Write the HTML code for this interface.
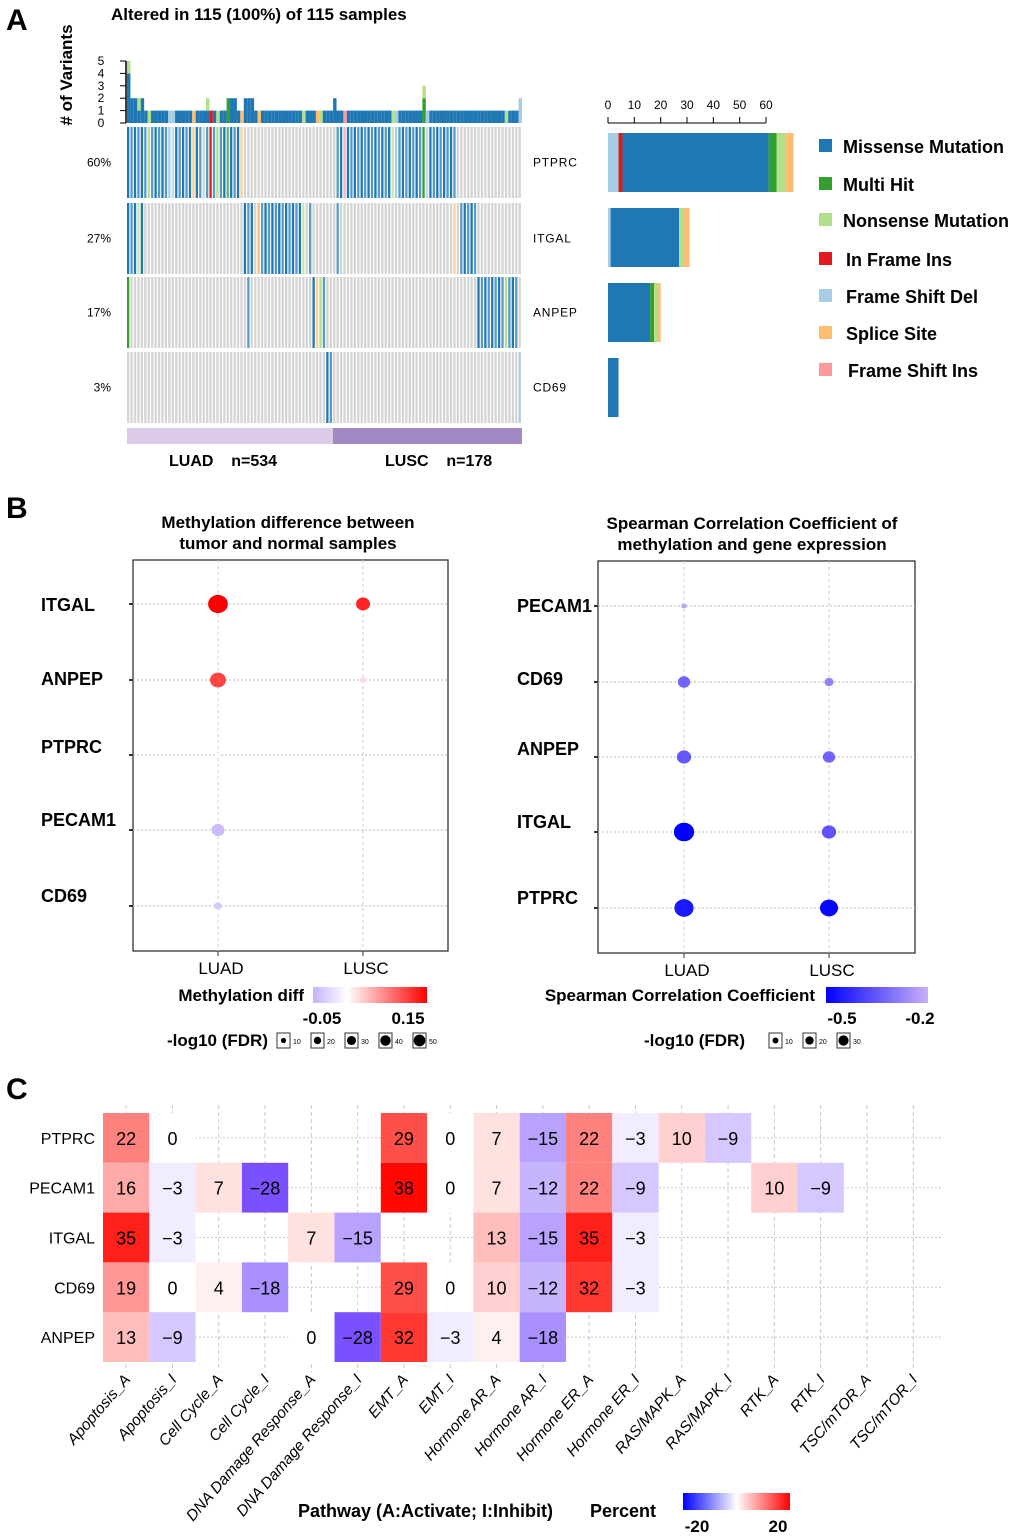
<!DOCTYPE html>
<html><head><meta charset="utf-8">
<style>
html,body{margin:0;padding:0;background:#fff;}
svg{display:block;font-family:"Liberation Sans",sans-serif;}
.n{font-family:"Liberation Sans Narrow","Liberation Sans",sans-serif;}
</style></head>
<body>
<svg id="fig" width="1020" height="1536" viewBox="0 0 1020 1536" xmlns="http://www.w3.org/2000/svg">
<defs>
<linearGradient id="gMeth" x1="0" x2="1" y1="0" y2="0"><stop offset="0" stop-color="#c6b2fb"/><stop offset="0.3" stop-color="#ffffff"/><stop offset="1" stop-color="#ff0000"/></linearGradient>
<linearGradient id="gSp" x1="0" x2="1" y1="0" y2="0"><stop offset="0" stop-color="#0000ff"/><stop offset="1" stop-color="#c8b0f8"/></linearGradient>
<linearGradient id="gPct" x1="0" x2="1" y1="0" y2="0"><stop offset="0" stop-color="#0000ff"/><stop offset="0.5" stop-color="#ffffff"/><stop offset="1" stop-color="#ff0000"/></linearGradient>
</defs>
<text x="6" y="30" font-size="30" font-weight="bold">A</text>
<text x="6" y="518" font-size="30" font-weight="bold">B</text>
<text x="6" y="1099" font-size="30" font-weight="bold">C</text>
<text x="111" y="20" font-size="17" font-weight="bold">Altered in 115 (100%) of 115 samples</text>
<text transform="translate(72,75) rotate(-90)" text-anchor="middle" font-size="17" font-weight="bold"># of Variants</text>
<g id="onco"></g>
<g id="dots"></g>
<g id="heat"></g>
</svg>
<script>
// ---------- Panel A data ----------
const genes = ["PTPRC","ITGAL","ANPEP","CD69"];
const genePct = ["60%","27%","17%","3%"];
const nSamples = 115;
const variantCounts = [5,2,2,2,2,1,1,1,1,1,1,1,1,1,1,1,1,1,1,1,1,1,1,2,1,1,1,1,1,2,2,2,1,1,2,2,2,
1,1,1,1,1,1,1,1,1,1,1,1,1,1,1,1,1,1,1,1,1,1,1,2,
1,1,1,1,1,1,1,1,1,1,1,1,1,1,1,1,1,1,1,1,1,1,1,1,1,3,
1,1,1,1,1,1,1,1,1,1,1,1,1,1,1,1,1,1,1,1,1,1,1,1,1,1,1,2];
const topExtraN = [0,3,23,86];
const ptprcIdx = [0,1,2,3,4,5,6,7,8,9,10,11,12,13,14,15,16,17,18,19,20,21,23,24,25,26,27,28,29,30,31,32,33,
61,62,63,64,65,66,67,68,69,70,71,72,73,74,75,76,77,78,79,80,81,82,83,84,85,86,87,88,89,90,91,92,93,94,95];
const ptprcType = {6:"N",12:"D",13:"D",19:"S",24:"I",26:"N",29:"H",33:"S",63:"F",77:"N",78:"D",86:"H",87:"D"};
const itgalIdx = [0,1,2,3,4,34,35,36,38,39,40,41,42,43,44,45,46,47,48,49,50,51,53,61,95,97,98,99,100,101];
const itgalType = {3:"N",38:"S",51:"N",95:"S"};
const anpepIdx = [0,35,54,55,56,57,102,103,104,105,106,107,108,109,110,111,112,113];
const anpepType = {0:"H",55:"S",56:"N",110:"N"};
const cd69Idx = [58,59,114];
const cd69Type = {114:"D"};
const barPTPRC = [["D",4],["I",1.5],["M",55.5],["H",3],["N",3.5],["S",3]];
const barITGAL = [["D",1],["M",26],["N",1.5],["S",2.5]];
const barANPEP = [["M",16],["H",1.5],["N",1.5],["S",1]];
const barCD69 = [["M",4]];
const axisTicks = [0,10,20,30,40,50,60];
const legendLabels = ["Missense Mutation","Multi Hit","Nonsense Mutation","In Frame Ins","Frame Shift Del","Splice Site","Frame Shift Ins"];
const legendTypes = ["M","H","N","I","D","S","F"];

const COL = {M:"#1f78b4",H:"#33a02c",N:"#b2df8a",I:"#e31a1c",D:"#a6cee3",S:"#fdbf6f",F:"#fb9a99"};
const NS="http://www.w3.org/2000/svg";
function mk(parent,tag,attrs,text){const e=document.createElementNS(NS,tag);for(const k in attrs)e.setAttribute(k,attrs[k]);if(text!==undefined)e.textContent=text;parent.appendChild(e);return e;}

const onco=document.getElementById('onco');
const x0=127, pitch=395/nSamples, cw=2.3;
const sx=i=>x0+i*pitch;
const rowTop=[127,203,277,352], rowH=71;
const geneIdx=[ptprcIdx,itgalIdx,anpepIdx,cd69Idx];
const geneType=[ptprcType,itgalType,anpepType,cd69Type];

for(let g=0;g<4;g++){
  const set=new Set(geneIdx[g]);
  for(let i=0;i<nSamples;i++){
    let fill="#d4d4d4";
    if(set.has(i)){const t=geneType[g][i]||"M";fill=COL[t];}
    const r=mk(onco,'rect',{x:sx(i).toFixed(2),y:rowTop[g],width:cw,height:rowH,fill:fill,opacity:(set.has(i)&&i%2)?0.75:1});
    
    
  }
  const lp=mk(onco,'text',{x:111,y:rowTop[g]+rowH/2+4,'text-anchor':'end','font-size':12},genePct[g]);
  
  
  const lg=mk(onco,'text',{x:533,y:rowTop[g]+rowH/2+4,'font-size':12,'letter-spacing':'0.8'},genes[g]);
  
  
}
const unit=12.4, yb=123;
const yc=v=>yb-v*unit;
for(let i=0;i<nSamples;i++){
  let base="M";
  for(let g=0;g<4;g++){ if(geneIdx[g].includes(i)){base=geneType[g][i]||"M";break;} }
  const n=variantCounts[i];
  const hasN=topExtraN.includes(i);
  const nb=hasN?n-1:n;
  const b=mk(onco,'rect',{x:sx(i).toFixed(2),y:yc(nb),width:pitch,height:nb*unit,fill:COL[base]});
  
  
  if(hasN){
    const t=mk(onco,'rect',{x:sx(i).toFixed(2),y:yc(n),width:pitch,height:unit,fill:COL.N});
    
    
  }
}
mk(onco,'line',{x1:126,x2:126,y1:yc(5),y2:yb,stroke:'#000','stroke-width':1.5});
for(let v=0;v<=5;v++){
  mk(onco,'line',{x1:120,x2:126,y1:yc(v),y2:yc(v),stroke:'#000'});
  const t=mk(onco,'text',{x:101,y:yc(v)+4,'font-size':12,'text-anchor':'middle'},String(v));
  
  
}
const a1=mk(onco,'rect',{x:127,y:428,width:206,height:16,fill:'#dccbe8'});


const a2=mk(onco,'rect',{x:333,y:428,width:189,height:16,fill:'#a289c4'});


const c1=mk(onco,'text',{x:169,y:466,'font-size':16,'font-weight':'bold',style:'white-space:pre'},'LUAD    n=534');


const c2=mk(onco,'text',{x:385,y:466,'font-size':16,'font-weight':'bold',style:'white-space:pre'},'LUSC    n=178');


const bx0=608, bu=158/60;
const bxs=v=>bx0+v*bu;
mk(onco,'line',{x1:bxs(0),x2:bxs(60),y1:123,y2:123,stroke:'#000'});
axisTicks.forEach(v=>{
  mk(onco,'line',{x1:bxs(v),x2:bxs(v),y1:117,y2:123,stroke:'#000'});
  const t=mk(onco,'text',{x:bxs(v),y:109,'font-size':12,'text-anchor':'middle'},String(v));
  
  
});
const bars=[barPTPRC,barITGAL,barANPEP,barCD69];
const barTop=[133,208,283,358];
bars.forEach((st,g)=>{
  let acc=0;
  st.forEach(([t,v])=>{
    const r=mk(onco,'rect',{x:bxs(acc),y:barTop[g],width:v*bu,height:59,fill:COL[t]});
    
    
    acc+=v;
  });
});
const legY=[146,184,220,259,296,333,370];
const legX=[843,843,843,846,846,846,848];
legendLabels.forEach((l,k)=>{
  const r=mk(onco,'rect',{x:819,y:legY[k]-7,width:13,height:13,fill:COL[legendTypes[k]]});
  
  
  const t=mk(onco,'text',{x:legX[k],y:legY[k]+7,'font-size':18,'font-weight':'bold'},l);
  
  
});

// ---------- Panel B data ----------
const cohorts=["LUAD","LUSC"];
const methGenes=["ITGAL","ANPEP","PTPRC","PECAM1","CD69"];
const methLUAD=[0.15,0.11,0.0,-0.045,-0.035];
const methLUSC=[0.13,0.02,null,null,null];
const methFdrLUAD=[50,33,1,22,8];
const methFdrLUSC=[25,5,0,0,0];
const spGenes=["PECAM1","CD69","ANPEP","ITGAL","PTPRC"];
const spLUAD=[-0.22,-0.33,-0.35,-0.5,-0.46];
const spLUSC=[null,-0.28,-0.33,-0.36,-0.49];
const spFdrLUAD=[3,15,20,40,36];
const spFdrLUSC=[0,8,15,20,32];
const methFdrLegend=[10,20,30,40,50];
const spFdrLegend=[10,20,30];

function lerp(a,b,t){return a.map((v,i)=>Math.round(v+(b[i]-v)*t));}
function rgb(c){return `rgb(${c[0]},${c[1]},${c[2]})`;}
function methColor(v){ if(v>=0) return rgb(lerp([255,255,255],[255,0,0],Math.min(1,v/0.15))); return rgb(lerp([255,255,255],[198,178,251],Math.min(1,-v/0.05)));}
function spColor(v){ const t=Math.max(0,Math.min(1,(v+0.5)/0.3)); return rgb(lerp([0,0,255],[200,176,248],t));}

const dots=document.getElementById('dots');
function dotPanel(o){
  const {bx,by,bw,bh,cx,rows,rowNames,labOff,title1,title2,titleX,lead,luad,lusc,fl,fs,colorFn,scale,pre}=o;
  const fr=mk(dots,'rect',{x:bx,y:by,width:bw,height:bh,fill:'none',stroke:'#333','stroke-width':1.3});
  
  
  cx.forEach((x,k)=>{
    mk(dots,'line',{x1:x,x2:x,y1:by,y2:by+bh,stroke:'#ccc','stroke-dasharray':'3,3'});
    mk(dots,'line',{x1:x,x2:x,y1:by+bh,y2:by+bh+5,stroke:'#333'});
    const t=mk(dots,'text',{x:x+3,y:by+bh+23,'font-size':17,'text-anchor':'middle',class:'n'},cohorts[k]);
    
    
  });
  rows.forEach((y,r)=>{
    mk(dots,'line',{x1:bx,x2:bx+bw,y1:y,y2:y,stroke:'#bbb','stroke-dasharray':'2,2'});
    mk(dots,'line',{x1:bx-4,x2:bx,y1:y,y2:y,stroke:'#333','stroke-width':2});
    const t=mk(dots,'text',{x:lead,y:y+6+labOff[r],'font-size':18,'font-weight':'bold',class:'n'},rowNames[r]);
    
    
  });
  const vals=[luad,lusc], fdrs=[fl,fs];
  vals.forEach((arr,k)=>arr.forEach((v,r)=>{
    if(v===null) return;
    const rr=Math.max(1.5,scale*Math.sqrt(fdrs[k][r]));
    const c=mk(dots,'ellipse',{cx:cx[k],cy:rows[r],rx:rr,ry:rr*0.92,fill:colorFn(v)});
    
    
  }));
  const t1=mk(dots,'text',{x:titleX,y:by-32,'font-size':17,'font-weight':'bold','text-anchor':'middle',class:'n'},title1);
  
  
  const t2=mk(dots,'text',{x:titleX,y:by-11,'font-size':17,'font-weight':'bold','text-anchor':'middle',class:'n'},title2);
  
  
}
dotPanel({pre:'methylation',bx:133,by:560,bw:315,bh:391,cx:[218,363],rows:[604,680,755,830,906],rowNames:methGenes,labOff:[1,-1,-8,-10,-10],
  title1:'Methylation difference between',title2:'tumor and normal samples',titleX:288,lead:41,
  luad:methLUAD,lusc:methLUSC,fl:methFdrLUAD,fs:methFdrLUSC,colorFn:methColor,scale:1.4});
dotPanel({pre:'spearman',bx:598,by:561,bw:317,bh:392,cx:[684,829],rows:[606,682,757,832,908],rowNames:spGenes,labOff:[0,-3,-8,-10,-10],
  title1:'Spearman Correlation Coefficient of',title2:'methylation and gene expression',titleX:752,lead:517,
  luad:spLUAD,lusc:spLUSC,fl:spFdrLUAD,fs:spFdrLUSC,colorFn:spColor,scale:1.6});
function addText(p,attrs,txt,name){const t=mk(p,'text',attrs,txt);return t;}
addText(dots,{x:304,y:1001,'font-size':17,'font-weight':'bold','text-anchor':'end',class:'n'},'Methylation diff','methylation-legend-title');
const mb=mk(dots,'rect',{x:313,y:987,width:114,height:16,fill:'url(#gMeth)'});


addText(dots,{x:322,y:1024,'font-size':17,'font-weight':'bold','text-anchor':'middle',class:'n'},'-0.05','methylation-colorbar-label');
addText(dots,{x:408,y:1024,'font-size':17,'font-weight':'bold','text-anchor':'middle',class:'n'},'0.15','methylation-colorbar-label');
addText(dots,{x:268,y:1046,'font-size':17,'font-weight':'bold','text-anchor':'end',class:'n'},'-log10 (FDR)','methylation-size-legend-title');
methFdrLegend.forEach((v,k)=>{
  const x=277+k*34;
  mk(dots,'rect',{x:x,y:1033,width:13,height:15,fill:'#fff',stroke:'#333'});
  const c=mk(dots,'circle',{cx:x+6.5,cy:1040.5,r:1.1*Math.sqrt(v)*0.75,fill:'#000'});
  
  
  addText(dots,{x:x+16,y:1044,'font-size':7},String(v),'size-legend-label');
});
addText(dots,{x:815,y:1001,'font-size':17,'font-weight':'bold','text-anchor':'end',class:'n'},'Spearman Correlation Coefficient','spearman-legend-title');
const sb=mk(dots,'rect',{x:826,y:987,width:102,height:16,fill:'url(#gSp)'});


addText(dots,{x:842,y:1024,'font-size':17,'font-weight':'bold','text-anchor':'middle',class:'n'},'-0.5','spearman-colorbar-label');
addText(dots,{x:920,y:1024,'font-size':17,'font-weight':'bold','text-anchor':'middle',class:'n'},'-0.2','spearman-colorbar-label');
addText(dots,{x:745,y:1046,'font-size':17,'font-weight':'bold','text-anchor':'end',class:'n'},'-log10 (FDR)','spearman-size-legend-title');
spFdrLegend.forEach((v,k)=>{
  const x=769+k*34;
  mk(dots,'rect',{x:x,y:1033,width:13,height:15,fill:'#fff',stroke:'#333'});
  const c=mk(dots,'circle',{cx:x+6.5,cy:1040.5,r:1.1*Math.sqrt(v)*0.85,fill:'#000'});
  
  
  addText(dots,{x:x+16,y:1044,'font-size':7},String(v),'size-legend-label');
});

// ---------- Panel C data ----------
const pathways=["Apoptosis_A","Apoptosis_I","Cell Cycle_A","Cell Cycle_I","DNA Damage Response_A","DNA Damage Response_I","EMT_A","EMT_I","Hormone AR_A","Hormone AR_I","Hormone ER_A","Hormone ER_I","RAS/MAPK_A","RAS/MAPK_I","RTK_A","RTK_I","TSC/mTOR_A","TSC/mTOR_I"];
const heatGenes=["PTPRC","PECAM1","ITGAL","CD69","ANPEP"];
const hPTPRC=[22,0,null,null,null,null,29,0,7,-15,22,-3,10,-9,null,null,null,null];
const hPECAM1=[16,-3,7,-28,null,null,38,0,7,-12,22,-9,null,null,10,-9,null,null];
const hITGAL=[35,-3,null,null,7,-15,null,null,13,-15,35,-3,null,null,null,null,null,null];
const hCD69=[19,0,4,-18,null,null,29,0,10,-12,32,-3,null,null,null,null,null,null];
const hANPEP=[13,-9,null,null,0,-28,32,-3,4,-18,null,null,null,null,null,null,null,null];
const heatRows=[hPTPRC,hPECAM1,hITGAL,hCD69,hANPEP];

function heatColor(v){
  if(v>=0){const t=Math.pow(Math.min(1,v/38),1.25);return rgb(lerp([255,255,255],[255,8,0],t));}
  const t=Math.min(1,-v/33);return rgb(lerp([255,255,255],[100,50,255],t));
}
const heat=document.getElementById('heat');
const hx0=103, hcw=46.3, hy0=1113, hrh=49.8;
const hcx=j=>hx0+(j+0.5)*hcw, hcy=r=>hy0+(r+0.5)*hrh;
pathways.forEach((p,j)=>{
  mk(heat,'line',{x1:hcx(j),x2:hcx(j),y1:1105,y2:1372,stroke:'#c8c8c8','stroke-dasharray':'4,3'});
  const t=mk(heat,'text',{transform:`translate(${hcx(j)+5},1380) rotate(-49)`,'font-size':15.5,'font-style':'italic','text-anchor':'end'},p);
  
  
});
heatGenes.forEach((g,r)=>{
  mk(heat,'line',{x1:hx0,x2:942,y1:hcy(r),y2:hcy(r),stroke:'#c8c8c8','stroke-dasharray':'2,2'});
  const t=mk(heat,'text',{x:95,y:hcy(r)+6,'font-size':16,'text-anchor':'end'},g);
  
  
});
heatRows.forEach((row,r)=>row.forEach((v,j)=>{
  if(v===null) return;
  const c=mk(heat,'rect',{x:hx0+j*hcw,y:hy0+r*hrh,width:hcw,height:hrh,fill:heatColor(v)});
  
  
  const t=mk(heat,'text',{x:hcx(j),y:hcy(r)+7,'font-size':18,'text-anchor':'middle',class:'n'},v<0?'\u2212'+(-v):String(v));
  
  
}));
addText(heat,{x:298,y:1517,'font-size':18,'font-weight':'bold',class:'n'},'Pathway (A:Activate; I:Inhibit)','heatmap-x-title');
addText(heat,{x:590,y:1517,'font-size':18,'font-weight':'bold',class:'n'},'Percent','heatmap-legend-title');
const pb=mk(heat,'rect',{x:683,y:1493,width:107,height:17,fill:'url(#gPct)'});


addText(heat,{x:697,y:1532,'font-size':17,'font-weight':'bold','text-anchor':'middle',class:'n'},'-20','percent-colorbar-label');
addText(heat,{x:778,y:1532,'font-size':17,'font-weight':'bold','text-anchor':'middle',class:'n'},'20','percent-colorbar-label');
</script>
</body></html>
